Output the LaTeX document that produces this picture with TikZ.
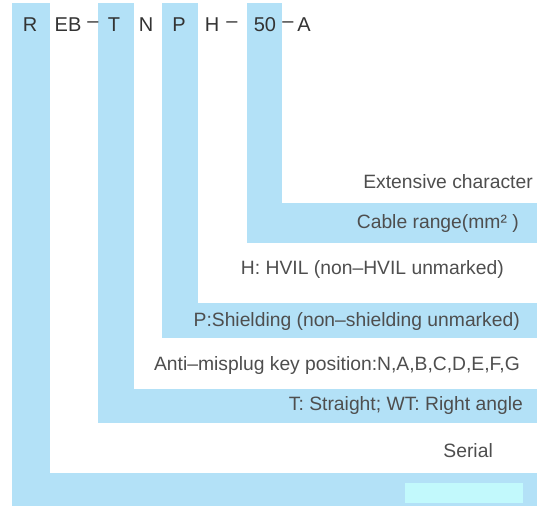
\documentclass[tikz,border=0pt]{standalone}
\usepackage{fontspec}
\setmainfont{Liberation Sans}
\usepackage{xcolor}
\definecolor{barblue}{HTML}{B3E1F7}
\definecolor{glow}{HTML}{C2F9FC}
\definecolor{ink}{HTML}{333333}
\definecolor{fog}{HTML}{4E4E4E}
\usepackage{tikz}
\newcommand{\codebar}[4]{\fill[barblue] (#1,3) rectangle (#2,#4); \fill[barblue] (#1,#3) rectangle (537,#4);}
\newcommand{\legend}[4]{\node[name=#1,anchor=east,inner sep=0pt,font=\fontsize{19.3}{19.3}\selectfont,text=fog] at (#2,#3) {#4};}

\begin{document}
\begin{tikzpicture}[x=1pt,y=-1pt]
  \useasboundingbox (0,0) rectangle (539,506);
  \codebar{12}{50}{473}{506}
  \codebar{98}{134}{389}{423}
  \codebar{162}{198}{303}{338}
  \codebar{247}{282}{203}{243}
  \fill[glow] (405,483) rectangle (523,503);
  \foreach \s/\t [count=\i] in {30/R,68/EB,93/--,114/T,146/N,179/P,212/H,232/--,265/50,288/--,304/A}{\node[name=code\i,font=\fontsize{20}{20}\selectfont,text=ink] at (\s,25) {\t};}
  \legend{extra}{533}{182}{Extensive character}
  \legend{cable}{519}{224}{Cable range(mm² )}
  \legend{hvil}{504}{270}{H: HVIL (non--HVIL unmarked)}
  \legend{shield}{520}{322}{P:Shielding (non--shielding unmarked)}
  \legend{key}{520}{366}{Anti--misplug key position:N,A,B,C,D,E,F,G}
  \legend{angle}{523}{406}{T: Straight; WT: Right angle}
  \legend{serial}{493}{451}{Serial}
\end{tikzpicture}
\end{document}
